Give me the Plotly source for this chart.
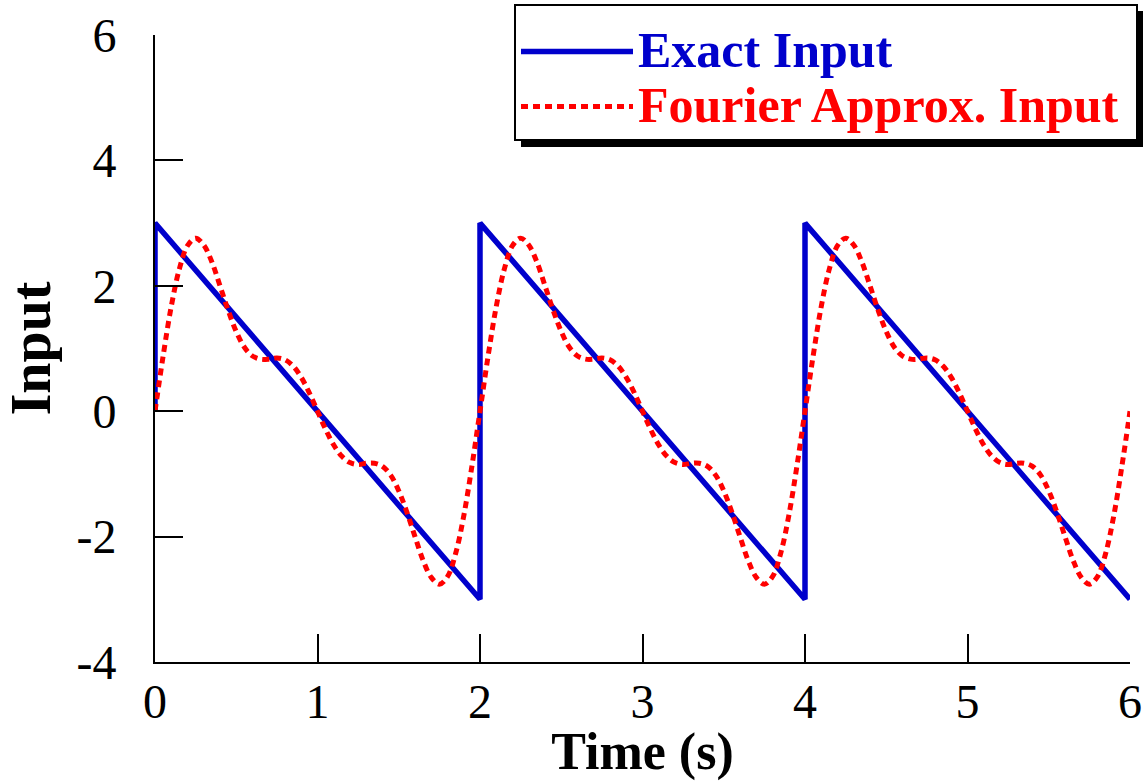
import plotly.graph_objects as go

# ---- data ----
exact_t = [0, 0, 2, 2, 4, 4, 6]
exact_u = [0, 3, -3, 3, -3, 3, -3]

fourier_t = [
    0.00, 0.05, 0.10, 0.15, 0.20, 0.25, 0.30, 0.35, 0.40, 0.45, 0.50, 0.55, 0.60, 0.65, 0.70, 0.75, 0.80, 0.85, 0.90, 0.95,
    1.00, 1.05, 1.10, 1.15, 1.20, 1.25, 1.30, 1.35, 1.40, 1.45, 1.50, 1.55, 1.60, 1.65, 1.70, 1.75, 1.80, 1.85, 1.90, 1.95,
    2.00, 2.05, 2.10, 2.15, 2.20, 2.25, 2.30, 2.35, 2.40, 2.45, 2.50, 2.55, 2.60, 2.65, 2.70, 2.75, 2.80, 2.85, 2.90, 2.95,
    3.00, 3.05, 3.10, 3.15, 3.20, 3.25, 3.30, 3.35, 3.40, 3.45, 3.50, 3.55, 3.60, 3.65, 3.70, 3.75, 3.80, 3.85, 3.90, 3.95,
    4.00, 4.05, 4.10, 4.15, 4.20, 4.25, 4.30, 4.35, 4.40, 4.45, 4.50, 4.55, 4.60, 4.65, 4.70, 4.75, 4.80, 4.85, 4.90, 4.95,
    5.00, 5.05, 5.10, 5.15, 5.20, 5.25, 5.30, 5.35, 5.40, 5.45, 5.50, 5.55, 5.60, 5.65, 5.70, 5.75, 5.80, 5.85, 5.90, 5.95,
    6.00,
]
fourier_u = [
    0.00, 0.88, 1.67, 2.27, 2.64, 2.76, 2.65, 2.38, 2.00, 1.61, 1.27, 1.02, 0.88, 0.83, 0.83, 0.85, 0.82, 0.72, 0.54, 0.29,
    0.00, -0.29, -0.54, -0.72, -0.82, -0.85, -0.83, -0.83, -0.88, -1.02, -1.27, -1.61, -2.00, -2.38, -2.65, -2.76, -2.64, -2.27, -1.67, -0.88,
    0.00, 0.88, 1.67, 2.27, 2.64, 2.76, 2.65, 2.38, 2.00, 1.61, 1.27, 1.02, 0.88, 0.83, 0.83, 0.85, 0.82, 0.72, 0.54, 0.29,
    0.00, -0.29, -0.54, -0.72, -0.82, -0.85, -0.83, -0.83, -0.88, -1.02, -1.27, -1.61, -2.00, -2.38, -2.65, -2.76, -2.64, -2.27, -1.67, -0.88,
    0.00, 0.88, 1.67, 2.27, 2.64, 2.76, 2.65, 2.38, 2.00, 1.61, 1.27, 1.02, 0.88, 0.83, 0.83, 0.85, 0.82, 0.72, 0.54, 0.29,
    0.00, -0.29, -0.54, -0.72, -0.82, -0.85, -0.83, -0.83, -0.88, -1.02, -1.27, -1.61, -2.00, -2.38, -2.65, -2.76, -2.64, -2.27, -1.67, -0.88,
    0.00,
]

x_ticks = [0, 1, 2, 3, 4, 5, 6]
y_ticks = [-4, -2, 0, 2, 4, 6]

BLUE = "#0000CC"
RED = "#FF0000"
FONT = "Liberation Serif"

W, H = 1143, 781
ML, MR, MT, MB = 155, 13, 35, 119
PW, PH = W - ML - MR, H - MT - MB


def px_x(p):
    return (p - ML) / PW


def px_y(p):
    return (H - MB - p) / PH


fig = go.Figure()
fig.add_trace(go.Scatter(
    x=exact_t, y=exact_u, mode="lines",
    name=f"<b><span style='color:{BLUE};font-size:50px'>Exact Input</span></b>",
    line=dict(color=BLUE, width=5.5),
))
fig.add_trace(go.Scatter(
    x=fourier_t, y=fourier_u, mode="lines",
    name=f"<b><span style='color:{RED};font-size:50px'>Fourier Approx. Input\u00a0</span></b>",
    line=dict(color=RED, width=5, dash="7px,5px", shape="spline", smoothing=1.0),
))

axis_common = dict(
    showline=True, linecolor="black", linewidth=2,
    ticks="inside", ticklen=28, tickwidth=2, tickcolor="black",
    showgrid=False, zeroline=False, mirror=False, automargin=False,
    tickfont=dict(family=FONT, size=48, color="black"),
)

fig.update_xaxes(
    range=[0, 6], tickvals=x_ticks, ticktext=[str(v) for v in x_ticks],
    title=dict(text="<b>Time (s)</b>", font=dict(family=FONT, size=52, color="black"), standoff=3),
    ticklabelstandoff=-4,
    **axis_common,
)
fig.update_yaxes(
    range=[-4, 6], tickvals=y_ticks, ticktext=[str(v) for v in y_ticks],
    title=dict(text="<b>Input</b>", font=dict(family=FONT, size=56, color="black"), standoff=16),
    ticklabelstandoff=27,
    **axis_common,
)

# drop shadow behind the legend box (decoration only)
fig.add_shape(
    type="rect", xref="paper", yref="paper",
    x0=px_x(521), x1=px_x(1143), y0=px_y(11), y1=px_y(147),
    fillcolor="black", line=dict(width=0), layer="above",
)

fig.update_layout(
    width=W, height=H,
    margin=dict(l=ML, r=MR, t=MT, b=MB, autoexpand=False),
    paper_bgcolor="white", plot_bgcolor="white",
    showlegend=True,
    legend=dict(
        x=px_x(514), y=px_y(4), xanchor="left", yanchor="top",
        bgcolor="white", bordercolor="black", borderwidth=2,
        font=dict(family=FONT, size=40, color="black"),
        itemwidth=112,
        title=dict(text=" ", font=dict(family=FONT, size=10)),
    ),
)

fig.write_html("out.html")
